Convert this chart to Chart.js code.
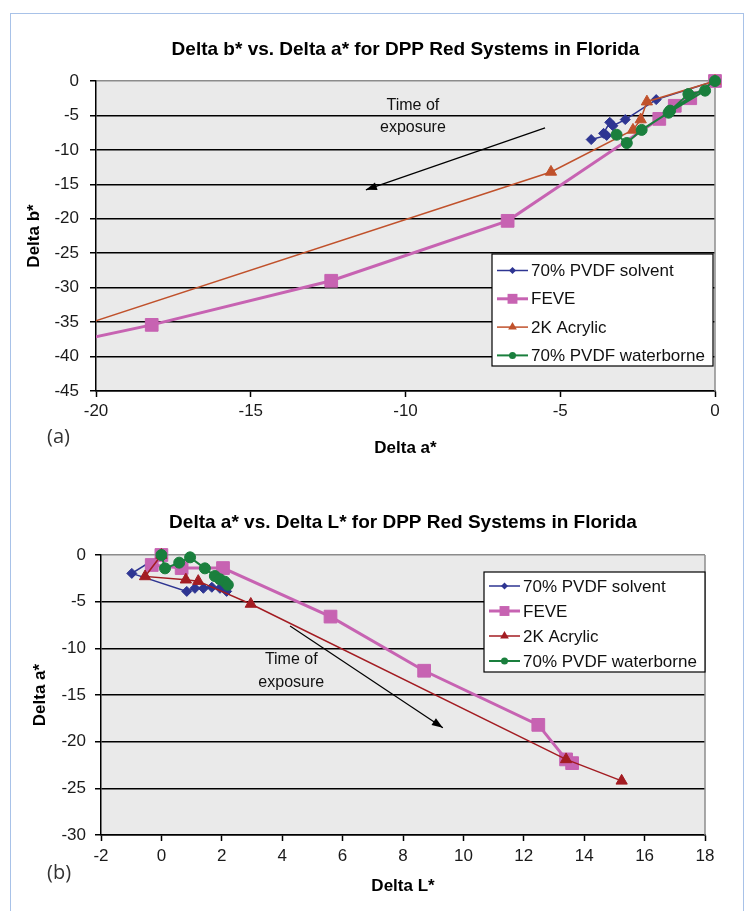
<!DOCTYPE html>
<html>
<head>
<meta charset="utf-8">
<script src="https://cdn.jsdelivr.net/npm/chart.js@4.4.0/dist/chart.umd.min.js"></script>
<style>
  html, body { margin: 0; padding: 0; background: #fff; }
  #page { position: relative; width: 748px; height: 911px; overflow: hidden; font-family: 'Liberation Sans', Arial, sans-serif; }
  #frame { position: absolute; left: 10px; top: 13px; width: 734px; height: 940px; border: 1px solid #a8c2e8; box-sizing: border-box; }
  .wrap { position: absolute; left: 12px; width: 730px; }
  #wrapA { top: 15px; height: 465px; }
  #wrapB { top: 490px; height: 421px; }
  .panel { position: absolute; left: 47px; font: 20px 'Open Sans', 'Liberation Sans', sans-serif; color: #333; }
</style>
</head>
<body>
<div id="page">
  <div id="frame"></div>
  <div class="wrap" id="wrapA"><canvas id="chartA" width="730" height="465"></canvas></div>
  <div class="wrap" id="wrapB"><canvas id="chartB" width="730" height="421"></canvas></div>
  <div class="panel" style="top:422px">(a)</div>
  <div class="panel" style="top:858px">(b)</div>
</div>
<script>
// ── Séries ──
const seriesNames = ['70% PVDF solvent', 'FEVE', '2K Acrylic', '70% PVDF waterborne'];

// (a) Delta b* vs Delta a*  — pares [Δa*, Δb*]
const aSolvent = [[0, 0], [-1.9, -2.7], [-2.9, -5.6], [-3.3, -6.5], [-3.4, -6.0], [-3.6, -7.6], [-3.5, -7.9], [-4.0, -8.5]];
const aFeve    = [[0, 0], [-0.8, -2.5], [-1.3, -3.6], [-1.8, -5.5], [-6.7, -20.3], [-12.4, -29.0], [-18.2, -35.4], [-22.3, -39.3]];
const aAcrylic = [[0, 0], [-2.2, -3.0], [-2.4, -5.6], [-2.65, -7.1], [-5.3, -13.2], [-21.9, -37.6], [-24.2, -41.0]];
const aWater   = [[0, 0], [-1.45, -4.3], [-0.86, -1.9], [-0.32, -1.4], [-1.5, -4.6], [-2.37, -7.1], [-2.85, -9.0], [-3.18, -7.8]];
const aTicksX  = [-20, -15, -10, -5, 0];
const aTicksY  = [0, -5, -10, -15, -20, -25, -30, -35, -40, -45];

// (b) Delta a* vs Delta L*  — pares [ΔL*, Δa*]
const bSolvent = [[0, 0], [-0.98, -1.97], [0.84, -3.9], [1.11, -3.57], [1.39, -3.57], [1.67, -3.46], [1.94, -3.57], [2.16, -3.9]];
const bFeve    = [[0, 0], [-0.32, -1.07], [0.67, -1.4], [2.04, -1.4], [5.6, -6.6], [8.7, -12.4], [12.48, -18.2], [13.4, -21.9], [13.6, -22.3]];
const bAcrylic = [[0, 0], [-0.54, -2.3], [0.81, -2.65], [1.22, -2.8], [2.96, -5.25], [13.4, -21.9], [15.24, -24.2]];
const bWater   = [[0, 0], [0.12, -1.43], [0.59, -0.82], [0.95, -0.25], [1.44, -1.43], [1.77, -2.25], [1.94, -2.6], [2.1, -2.86], [2.2, -3.2]];
const bTicksX  = [-2, 0, 2, 4, 6, 8, 10, 12, 14, 16, 18];
const bTicksY  = [0, -5, -10, -15, -20, -25, -30];

// ── Estilo ──
const FONT = "'Liberation Sans', Arial, sans-serif";
Chart.defaults.font.family = FONT;
Chart.defaults.color = '#111';

const styleBase = [
  { color: '#2e3592', width: 1.5, point: 'rectRot',  r: 5,   lr: 3.5 },
  { color: '#c763b2', width: 3,   point: 'rect',     r: 9,   lr: 7   },
  { color: '#c0512b', width: 1.5, point: 'triangle', r: 6.5, lr: 5   },
  { color: '#1a7f3d', width: 2,   point: 'circle',   r: 5.5, lr: 3.5 },
];

function buildDatasets(dataList, acrylicColor) {
  return dataList.map((arr, i) => {
    const s = styleBase[i];
    const color = (i === 2 && acrylicColor) ? acrylicColor : s.color;
    return {
      label: seriesNames[i],
      data: arr.map(([x, y]) => ({ x, y })),
      showLine: true,
      borderColor: color,
      backgroundColor: color,
      borderWidth: s.width,
      pointStyle: s.point,
      pointRadius: s.r,
      pointBorderColor: color,
      pointBackgroundColor: color,
      pointBorderWidth: 1,
      tension: 0,
      order: 3 - i,
      clip: { left: 0, top: false, right: false, bottom: 0 },
      legendR: s.lr,
    };
  });
}

function drawMarker(ctx, style, x, y, r, color) {
  ctx.save();
  ctx.fillStyle = color;
  ctx.beginPath();
  if (style === 'rectRot') {
    ctx.moveTo(x, y - r); ctx.lineTo(x + r, y); ctx.lineTo(x, y + r); ctx.lineTo(x - r, y);
  } else if (style === 'rect') {
    const s = r * Math.SQRT1_2;
    ctx.rect(x - s, y - s, 2 * s, 2 * s);
  } else if (style === 'triangle') {
    for (let k = 0; k < 3; k++) {
      const a = k * 2 * Math.PI / 3;
      const px = x + Math.sin(a) * r, py = y - Math.cos(a) * r;
      k === 0 ? ctx.moveTo(px, py) : ctx.lineTo(px, py);
    }
  } else {
    ctx.arc(x, y, r, 0, Math.PI * 2);
  }
  ctx.closePath();
  ctx.fill();
  ctx.restore();
}

// ── Plugin: fundo do plot, título, legenda interna, nota "Time of exposure" ──
const decor = {
  id: 'decor',
  beforeDraw(chart) {
    const { ctx, chartArea: a } = chart;
    ctx.save();
    ctx.fillStyle = '#eaeaea';
    ctx.fillRect(a.left, a.top, a.right - a.left, a.bottom - a.top);
    ctx.restore();
  },
  beforeDatasetsDraw(chart) {
    const { ctx, chartArea: a } = chart;
    ctx.save();
    ctx.strokeStyle = '#8c8c8c';
    ctx.lineWidth = 1.5;
    ctx.beginPath();
    ctx.moveTo(a.right, a.top); ctx.lineTo(a.right, a.bottom);
    ctx.stroke();
    ctx.restore();
  },
  afterDraw(chart, args, opts) {
    const { ctx, chartArea: a, scales } = chart;
    ctx.save();

    // título centrado sobre a área do gráfico
    ctx.font = `bold 19px ${FONT}`;
    ctx.fillStyle = '#000';
    ctx.textAlign = 'center';
    ctx.textBaseline = 'middle';
    ctx.fillText(opts.title, (a.left + a.right) / 2, opts.titleY);

    // nota + seta (coordenadas em unidades dos eixos)
    const px = v => scales.x.getPixelForValue(v);
    const py = v => scales.y.getPixelForValue(v);
    ctx.font = `16px ${FONT}`;
    ctx.fillStyle = '#111';
    opts.note.lines.forEach((t, i) => ctx.fillText(t, px(opts.note.x), py(opts.note.y[i])));

    const x1 = px(opts.arrow[0][0]), y1 = py(opts.arrow[0][1]);
    const x2 = px(opts.arrow[1][0]), y2 = py(opts.arrow[1][1]);
    ctx.strokeStyle = '#000';
    ctx.lineWidth = 1.2;
    ctx.beginPath(); ctx.moveTo(x1, y1); ctx.lineTo(x2, y2); ctx.stroke();
    const ang = Math.atan2(y2 - y1, x2 - x1);
    ctx.fillStyle = '#000';
    ctx.beginPath();
    ctx.moveTo(x2, y2);
    ctx.lineTo(x2 - 11 * Math.cos(ang) + 4 * Math.sin(ang), y2 - 11 * Math.sin(ang) - 4 * Math.cos(ang));
    ctx.lineTo(x2 - 11 * Math.cos(ang) - 4 * Math.sin(ang), y2 - 11 * Math.sin(ang) + 4 * Math.cos(ang));
    ctx.closePath(); ctx.fill();

    // legenda com caixa
    const L = opts.legend;
    ctx.fillStyle = '#fff';
    ctx.fillRect(L.x, L.y, L.w, L.h);
    ctx.strokeStyle = '#000';
    ctx.lineWidth = 1.2;
    ctx.strokeRect(L.x, L.y, L.w, L.h);
    ctx.font = `17px ${FONT}`;
    ctx.textAlign = 'left';
    chart.data.datasets.forEach((ds, i) => {
      const yy = L.y + L.first + i * L.rowH;
      ctx.strokeStyle = ds.borderColor;
      ctx.lineWidth = ds.borderWidth;
      ctx.beginPath(); ctx.moveTo(L.x + 5, yy); ctx.lineTo(L.x + 36, yy); ctx.stroke();
      drawMarker(ctx, ds.pointStyle, L.x + 20.5, yy, ds.legendR, ds.borderColor);
      ctx.fillStyle = '#111';
      ctx.fillText(ds.label, L.x + 39, yy + 1);
    });
    ctx.restore();
  },
};

function axisOpts(ticks, tickPad, fitSize, title, titlePad, isY) {
  return {
    type: 'linear',
    min: Math.min(...ticks),
    max: Math.max(...ticks),
    afterBuildTicks: s => { s.ticks = ticks.map(v => ({ value: v })); },
    afterFit: s => { if (isY) s.width = fitSize; else s.height = fitSize; },
    ticks: { color: '#1a1a1a', font: { size: 17 }, padding: tickPad },
    grid: isY
      ? { color: c => (c.tick && c.tick.value === 0 ? '#8c8c8c' : '#000'), lineWidth: 1.5,
          tickLength: 6, tickColor: '#000', tickWidth: 1.5 }
      : { drawOnChartArea: false, tickLength: 6, tickColor: '#000', tickWidth: 1.5 },
    border: { color: '#000', width: 1.5 },
    title: { display: true, text: title, color: '#000', font: { size: 17, weight: 'bold' }, padding: titlePad },
  };
}

function makeChart(id, datasets, cfg) {
  return new Chart(document.getElementById(id), {
    type: 'scatter',
    data: { datasets },
    options: {
      responsive: false,
      animation: false,
      devicePixelRatio: 1,
      layout: { padding: cfg.padding },
      scales: { x: cfg.x, y: cfg.y },
      plugins: { legend: { display: false }, tooltip: { enabled: false }, title: { display: false }, decor: cfg.decor },
    },
    plugins: [decor],
  });
}

makeChart('chartA', buildDatasets([aSolvent, aFeve, aAcrylic, aWater]), {
  padding: { top: 66, right: 27, left: 0, bottom: 0 },
  x: axisOpts(aTicksX, 4, 89, 'Delta a*', { top: 0, bottom: 21 }, false),
  y: axisOpts(aTicksY, 11, 84, 'Delta b*', { top: 12, bottom: 0 }, true),
  decor: {
    title: 'Delta b* vs. Delta a* for DPP Red Systems in Florida',
    titleY: 35,
    note: { lines: ['Time of', 'exposure'], x: -9.76, y: [-3.5, -6.7] },
    arrow: [[-5.49, -6.8], [-11.28, -15.8]],
    legend: { x: 480, y: 239, w: 221, h: 112, first: 16.5, rowH: 28.3 },
  },
});

makeChart('chartB', buildDatasets([bSolvent, bFeve, bAcrylic, bWater], '#a31c22'), {
  padding: { top: 65, right: 37, left: 0, bottom: 0 },
  x: axisOpts(bTicksX, 5, 76, 'Delta L*', { top: 0, bottom: 14 }, false),
  y: axisOpts(bTicksY, 9, 89, 'Delta a*', { top: 18, bottom: 0 }, true),
  decor: {
    title: 'Delta a* vs. Delta L* for DPP Red Systems in Florida',
    titleY: 33,
    note: { lines: ['Time of', 'exposure'], x: 4.3, y: [-11.25, -13.7] },
    arrow: [[4.26, -7.6], [9.32, -18.5]],
    legend: { x: 472, y: 82, w: 221, h: 100, first: 14, rowH: 25 },
  },
});
</script>
</body>
</html>
